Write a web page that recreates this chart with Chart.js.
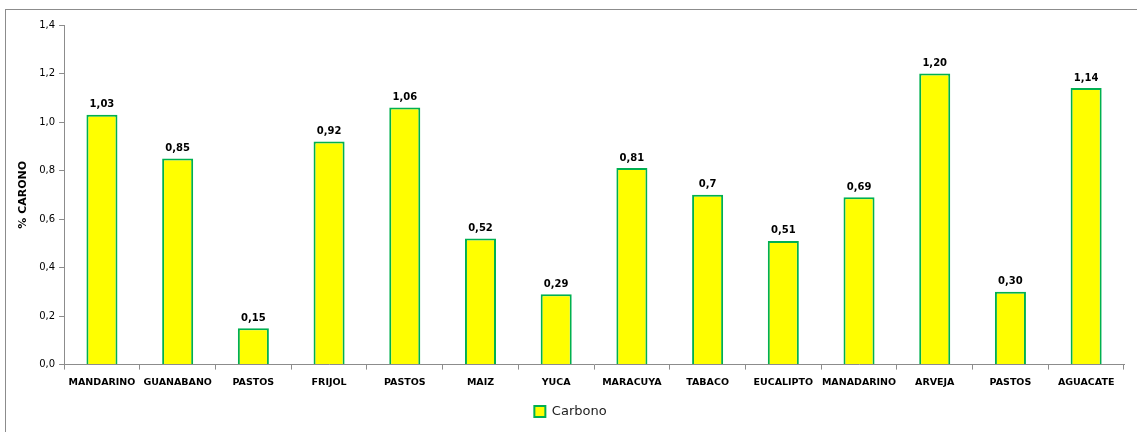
<!DOCTYPE html>
<html>
<head>
<meta charset="utf-8">
<script src="https://cdn.jsdelivr.net/npm/chart.js@4.4.0/dist/chart.umd.min.js"></script>
<style>
  html, body { margin: 0; padding: 0; background: #fff; overflow: hidden; }
  #frame { position: absolute; left: 5px; top: 9px; width: 1140px; height: 430px; border: 1px solid #8c8c8c; box-sizing: border-box; }
  #chart { position: absolute; left: 0; top: 0; }
</style>
</head>
<body>
<div id="frame"></div>
<canvas id="chart" width="1137" height="432"></canvas>
<script>
// cultivos y % de carbono
const cultivos = ['MANDARINO', 'GUANABANO', 'PASTOS', 'FRIJOL', 'PASTOS', 'MAIZ', 'YUCA',
    'MARACUYA', 'TABACO', 'EUCALIPTO', 'MANADARINO', 'ARVEJA', 'PASTOS', 'AGUACATE'];
const carbono = [1.03, 0.85, 0.15, 0.92, 1.06, 0.52, 0.29, 0.81, 0.7, 0.51, 0.69, 1.2, 0.3, 1.14];
const etiquetas = ['1,03', '0,85', '0,15', '0,92', '1,06', '0,52', '0,29', '0,81', '0,7', '0,51',
    '0,69', '1,20', '0,30', '1,14'];

const FONT = '"DejaVu Sans", Verdana, sans-serif';
const AXIS_COLOR = '#8c8c8c';

// draws the value labels above each bar
const barLabelsPlugin = {
    id: 'barLabels',
    afterDatasetsDraw(chart) {
        const ctx = chart.ctx;
        const meta = chart.getDatasetMeta(0);
        ctx.save();
        ctx.font = 'bold 10px ' + FONT;
        ctx.fillStyle = '#000';
        ctx.textAlign = 'center';
        ctx.textBaseline = 'bottom';
        meta.data.forEach((bar, i) => {
            ctx.fillText(etiquetas[i], bar.x, bar.y - 5);
        });
        ctx.restore();
    },
};

new Chart(document.getElementById('chart'), {
    type: 'bar',
    data: {
        labels: cultivos,
        datasets: [{
            label: 'Carbono',
            data: carbono,
            backgroundColor: '#ffff00',
            borderColor: '#00b050',
            borderWidth: 2,
            barPercentage: 0.41,
            categoryPercentage: 1,
        }],
    },
    options: {
        responsive: false,
        animation: false,
        layout: { padding: { left: 17, top: 25, right: 13, bottom: 4 } },
        plugins: {
            legend: {
                position: 'bottom',
                labels: {
                    font: { family: FONT, size: 13 },
                    color: '#222',
                    boxWidth: 11,
                    boxHeight: 11,
                    padding: 10,
                },
            },
            tooltip: { enabled: false },
        },
        scales: {
            x: {
                grid: { display: true, drawOnChartArea: false, drawTicks: true, tickLength: 5, color: AXIS_COLOR, offset: true },
                border: { color: AXIS_COLOR, width: 1 },
                ticks: { font: { family: FONT, size: 9.5, weight: 'bold' }, color: '#000', maxRotation: 0, autoSkip: false, padding: 7 },
            },
            y: {
                min: 0,
                max: 1.4,
                grid: { display: true, drawOnChartArea: false, drawTicks: true, tickLength: 5, color: AXIS_COLOR },
                border: { color: AXIS_COLOR, width: 1 },
                ticks: {
                    stepSize: 0.2,
                    font: { family: FONT, size: 10 },
                    color: '#000',
                    padding: 4,
                    callback: (v) => v.toFixed(1).replace('.', ','),
                },
                title: {
                    display: true,
                    text: '% CARONO',
                    font: { family: FONT, size: 11, weight: 'bold' },
                    color: '#000',
                    padding: { top: 0, bottom: 5 },
                },
            },
        },
    },
    plugins: [barLabelsPlugin],
});
</script>
</body>
</html>
